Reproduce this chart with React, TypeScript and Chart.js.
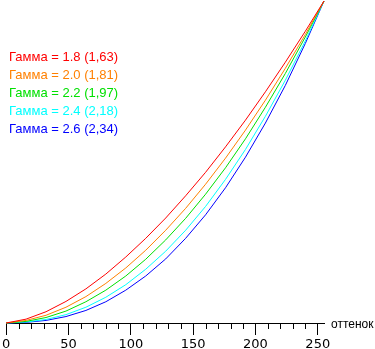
import React, { useEffect, useRef } from "react";
import { Chart, registerables } from "chart.js";

Chart.register(...registerables);

const shades = [0, 16, 32, 48, 64, 80, 96, 112, 128, 144, 160, 176, 192, 208, 224, 240, 255];
const gamma18 = [0, 0.012, 0.035, 0.067, 0.106, 0.152, 0.205, 0.263, 0.326, 0.395, 0.468, 0.547, 0.63, 0.718, 0.81, 0.906, 1];
const gamma20 = [0, 0.008, 0.024, 0.049, 0.082, 0.123, 0.171, 0.226, 0.288, 0.356, 0.431, 0.512, 0.599, 0.692, 0.791, 0.896, 1];
const gamma22 = [0, 0.005, 0.017, 0.037, 0.066, 0.102, 0.146, 0.198, 0.258, 0.325, 0.4, 0.482, 0.572, 0.67, 0.775, 0.888, 1];
const gamma24 = [0, 0.003, 0.011, 0.026, 0.049, 0.08, 0.119, 0.167, 0.223, 0.288, 0.362, 0.446, 0.539, 0.642, 0.754, 0.876, 1];
const gamma26 = [0, 0.002, 0.008, 0.02, 0.039, 0.066, 0.102, 0.146, 0.199, 0.263, 0.336, 0.42, 0.515, 0.621, 0.738, 0.868, 1];

const seriesLabels = [
  "Гамма = 1.8 (1,63)",
  "Гамма = 2.0 (1,81)",
  "Гамма = 2.2 (1,97)",
  "Гамма = 2.4 (2,18)",
  "Гамма = 2.6 (2,34)",
];
const seriesColors = ["rgb(255,0,0)", "rgb(255,128,0)", "rgb(0,224,0)", "rgb(0,255,255)", "rgb(0,0,255)"];
const seriesValues = [gamma18, gamma20, gamma22, gamma24, gamma26];
const axisTitle = "оттенок";

const overlayPlugin = {
  id: "overlay",
  afterDraw(chart: any) {
    const ctx = chart.ctx;
    const xs = chart.scales.x;
    const axisY = chart.chartArea.bottom;
    ctx.save();
    // minor ticks
    ctx.strokeStyle = "#000";
    ctx.lineWidth = 1;
    for (let v = 10; v <= 250; v += 10) {
      if (v % 50 === 0) continue;
      const px = Math.round(xs.getPixelForValue(v)) + 0.5;
      ctx.beginPath();
      ctx.moveTo(px, axisY);
      ctx.lineTo(px, axisY + 6);
      ctx.stroke();
    }
    // legend text
    ctx.font = "13px 'Liberation Sans'";
    ctx.textBaseline = "alphabetic";
    ctx.textAlign = "left";
    seriesLabels.forEach((t, i) => {
      ctx.fillStyle = seriesColors[i];
      ctx.fillText(t, 9, 61 + i * 18);
    });
    // axis title
    ctx.fillStyle = "#000";
    ctx.font = "12px 'Liberation Sans'";
    ctx.fillText(axisTitle, 331, axisY + 5);
    ctx.restore();
  },
};

export default function App() {
  const ref = useRef<HTMLCanvasElement>(null);
  useEffect(() => {
    if (!ref.current) return;
    const chart = new Chart(ref.current, {
      type: "line",
      data: {
        datasets: seriesValues.map((vals, i) => ({
          label: seriesLabels[i],
          data: shades.map((x, j) => ({ x, y: vals[j] })),
          borderColor: seriesColors[i],
          backgroundColor: seriesColors[i],
          borderWidth: 1,
          pointRadius: 0,
          tension: 0,
          fill: false,
          clip: false,
        })),
      },
      options: {
        animation: false,
        responsive: false,
        maintainAspectRatio: false,
        layout: { padding: { left: 4, right: 51, top: 1, bottom: 0 } },
        plugins: { legend: { display: false }, tooltip: { enabled: false } },
        scales: {
          x: {
            type: "linear",
            min: 0,
            max: 255,
            afterFit: (s: any) => {
              s.height = 26;
            },
            border: { display: true, color: "#000", width: 1 },
            grid: {
              drawOnChartArea: false,
              drawTicks: true,
              tickLength: 12,
              tickColor: (c: any) => (c.tick && c.tick.value % 50 === 0 ? "#000" : "rgba(0,0,0,0)"),
            },
            ticks: {
              stepSize: 10,
              autoSkip: false,
              includeBounds: false,
              maxRotation: 0,
              padding: 2,
              color: "#000",
              font: { family: "'DejaVu Sans'", size: 13 },
              callback: (v: any) => (Number(v) % 50 === 0 ? String(v) : ""),
            },
          },
          y: { display: false, min: 0, max: 1 },
        },
      },
      plugins: [overlayPlugin],
    });
    return () => chart.destroy();
  }, []);
  return (
    <div style={{ position: "absolute", left: 0, top: 0, width: 375, height: 349, background: "#fff" }}>
      <canvas ref={ref} width={375} height={349} style={{ width: 375, height: 349, display: "block" }} />
    </div>
  );
}
